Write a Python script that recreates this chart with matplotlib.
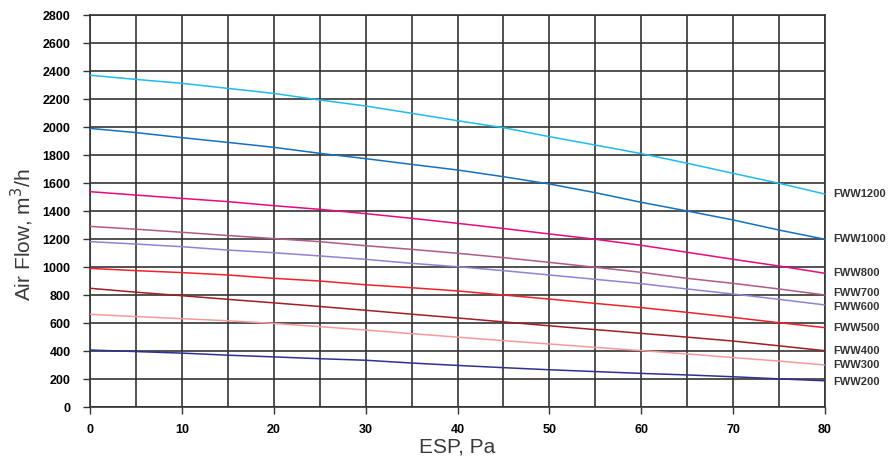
"""Air flow vs external static pressure curves for FWW fan coil units."""

import matplotlib

matplotlib.use("Agg")
import matplotlib.pyplot as plt
from matplotlib.ticker import MultipleLocator

plt.rcParams["font.family"] = ["Liberation Sans", "DejaVu Sans"]

# --- data ---
esp_pa = [0, 5, 10, 15, 20, 25, 30, 35, 40, 45, 50, 55, 60, 65, 70, 75, 80]

fww1200 = [2370, 2340, 2312, 2276, 2240, 2193, 2150, 2098, 2045, 1995, 1931, 1871, 1810, 1741, 1669, 1598, 1521]
fww1000 = [1990, 1960, 1924, 1890, 1855, 1812, 1774, 1733, 1693, 1645, 1593, 1531, 1462, 1400, 1336, 1264, 1198]
fww800 = [1538, 1514, 1490, 1467, 1438, 1412, 1381, 1348, 1312, 1275, 1236, 1198, 1155, 1105, 1055, 1007, 955]
fww700 = [1290, 1270, 1248, 1225, 1203, 1181, 1152, 1126, 1098, 1067, 1033, 998, 962, 919, 883, 843, 800]
fww600 = [1181, 1164, 1145, 1121, 1102, 1079, 1055, 1026, 1002, 974, 943, 912, 881, 843, 807, 769, 729]
fww500 = [990, 974, 960, 943, 919, 900, 873, 852, 829, 800, 771, 740, 710, 676, 640, 602, 567]
fww400 = [848, 820, 795, 769, 744, 718, 691, 663, 636, 608, 580, 553, 526, 499, 471, 437, 402]
fww300 = [662, 646, 631, 616, 597, 574, 550, 524, 499, 474, 450, 426, 403, 379, 353, 328, 300]
fww200 = [407, 396, 385, 370, 358, 345, 334, 314, 297, 281, 266, 253, 240, 229, 216, 201, 187]

series_names = ["FWW1200", "FWW1000", "FWW800", "FWW700", "FWW600",
                "FWW500", "FWW400", "FWW300", "FWW200"]
series_values = [fww1200, fww1000, fww800, fww700, fww600,
                 fww500, fww400, fww300, fww200]
series_colors = ["#1ebbee", "#1570be", "#e8097f", "#b05a85", "#8c85d0",
                 "#ee2229", "#a01e25", "#f59a9a", "#2e3192"]
# small vertical nudges (points) so the crowded end labels stay apart
label_nudge = [0, 0, 0, 1.5, -1.5, 0, 0, 0, -0.5]

fig = plt.figure(figsize=(8.9, 4.61), dpi=100)
ax = fig.add_axes([90 / 890, 1 - 407 / 461, 735 / 890, 392 / 461])

for name, vals, col, dy in zip(series_names, series_values, series_colors, label_nudge):
    ax.plot(esp_pa, vals, color=col, lw=1.1, solid_capstyle="butt", zorder=3)
    ax.annotate(name, xy=(esp_pa[-1], vals[-1]), xytext=(6, dy),
                textcoords="offset points", va="center", ha="left",
                fontsize=8, fontweight="bold", color="#333333",
                annotation_clip=False)

ax.set_xlim(0, 80)
ax.set_ylim(0, 2800)
ax.xaxis.set_major_locator(MultipleLocator(10))
ax.xaxis.set_minor_locator(MultipleLocator(5))
ax.yaxis.set_major_locator(MultipleLocator(200))

ax.grid(True, which="both", color="#333333", lw=1.2, zorder=1)
ax.set_axisbelow(True)
for sp in ax.spines.values():
    sp.set_color("#333333")
    sp.set_linewidth(1.2)

ax.tick_params(axis="both", which="major", direction="out", length=5,
               width=1.0, color="#333333", labelsize=9)
ax.tick_params(axis="x", which="minor", length=0)
ax.tick_params(axis="y", pad=9)
ax.tick_params(axis="x", pad=7)
for lbl in ax.get_xticklabels() + ax.get_yticklabels():
    lbl.set_fontweight("bold")

ax.set_xlabel("ESP, Pa", fontsize=15, color="#3a3a3a")
ax.set_ylabel("Air Flow, m$^3$/h", fontsize=15, color="#3a3a3a")
ax.xaxis.set_label_coords(0.5, -0.102)
ax.xaxis.label.set_va("center")
ax.yaxis.set_label_coords(-0.0925, 0.44)
ax.yaxis.label.set_va("center")

fig.savefig("out.png", dpi=100)
